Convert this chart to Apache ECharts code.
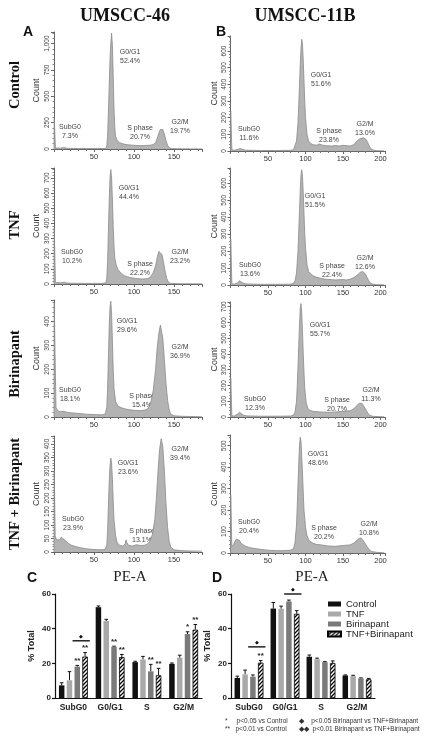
<!DOCTYPE html>
<html><head><meta charset="utf-8">
<script src="https://cdn.jsdelivr.net/npm/echarts@6/dist/echarts.min.js"></script>
<style>html,body{margin:0;padding:0;background:#fff}#c{width:434px;height:748px}</style>
</head><body><div id="c"></div>
<script>
// ---------- DATA ----------
const cellLines = ['UMSCC-46', 'UMSCC-11B'];
const treatments = ['Control', 'TNF', 'Birinapant', 'TNF + Birinapant'];
const phaseNames = ['SubG0', 'G0/G1', 'S phase', 'G2/M'];
// percentages shown on the histograms (rows: Control, TNF, Birinapant, TNF+Birinapant)
const pctA = [[7.3, 52.4, 20.7, 19.7], [10.2, 44.4, 22.2, 23.2], [18.1, 29.6, 15.4, 36.9], [23.9, 23.6, 13.1, 39.4]];
const pctB = [[11.6, 51.6, 23.8, 13.0], [13.6, 51.5, 22.4, 12.6], [12.3, 55.7, 20.7, 11.3], [20.4, 48.6, 20.2, 10.8]];

// histogram traces [PE-A, count]
const histA_control = [[0,0],[0.3,290],[1.2,290],[1.8,10],[4,5],[8,8],[10,14],[12,15],[14,8],[18,5],[30,4],[45,4],[60,4],[65,6],[66,30],[67,120],[68,350],[69,600],[70,850],[71,1000],[72,1100],[73,980],[74,700],[75,380],[76,200],[77,120],[79,80],[82,60],[86,50],[90,42],[95,38],[100,35],[105,33],[110,32],[115,34],[120,36],[124,42],[127,60],[129,100],[131,150],[133,185],[135,195],[136,185],[138,140],[140,80],[142,35],[144,12],[147,4],[155,2],[170,1],[185,1]];
const histA_tnf = [[0,0],[0.3,370],[1.2,370],[1.8,10],[4,5],[8,8],[10,12],[13,12],[16,7],[20,5],[40,4],[60,4],[65,8],[66,40],[67,150],[68,350],[69,550],[70,700],[71,755],[72,700],[73,560],[74,380],[75,250],[76,170],[78,120],[80,95],[84,70],[88,55],[92,48],[96,42],[100,38],[105,35],[110,33],[115,34],[118,38],[121,50],[124,75],[127,120],[129,175],[131,215],[133,222],[135,195],[137,140],[139,80],[141,35],[143,12],[146,4],[155,2],[185,1]];
const histA_bir = [[0,0],[0.3,480],[1,480],[1.3,270],[2,270],[2.5,40],[5,25],[8,22],[12,24],[16,20],[20,18],[30,15],[40,12],[50,10],[60,9],[64,12],[66,40],[67,120],[68,250],[69,380],[70,460],[71,485],[72,430],[73,320],[74,200],[75,120],[77,65],[80,45],[85,38],[90,33],[95,30],[100,28],[105,27],[110,27],[115,30],[118,38],[121,60],[124,110],[127,200],[129,290],[131,350],[133,385],[134,380],[136,330],[138,240],[140,140],[142,70],[144,30],[146,12],[150,5],[160,3],[185,1]];
const histA_tnfbir = [[0,0],[0.3,300],[1,300],[1.5,60],[3,45],[5,40],[7,45],[9,55],[10,62],[11,58],[13,45],[15,38],[18,32],[22,25],[27,20],[33,16],[40,12],[50,9],[60,8],[64,10],[66,25],[67,80],[68,170],[69,260],[70,320],[71,348],[72,330],[73,270],[74,190],[75,120],[77,60],[79,35],[82,25],[86,22],[89,30],[90,45],[91,35],[93,25],[98,22],[103,27],[108,24],[113,25],[117,30],[120,40],[123,65],[126,120],[128,200],[130,300],[132,380],[134,420],[135,415],[136,390],[138,300],[140,180],[142,90],[144,40],[146,18],[150,8],[160,5],[170,4],[185,3]];
const histB_control = [[0,0],[0.3,240],[1.2,240],[1.8,8],[5,4],[10,10],[13,15],[16,10],[20,5],[40,3],[60,3],[80,4],[84,8],[86,20],[88,60],[90,170],[91,280],[92,400],[93,520],[94,620],[95,670],[96,640],[97,540],[98,420],[99,300],[100,200],[102,100],[104,60],[107,45],[110,38],[115,35],[118,42],[120,45],[123,35],[128,32],[135,30],[140,33],[145,30],[150,34],[155,32],[160,30],[164,38],[168,55],[171,70],[174,75],[177,80],[179,78],[181,68],[183,50],[185,30],[187,15],[190,6],[195,2],[205,1]];
const histB_tnf = [[0,0],[0.3,270],[1.2,270],[1.8,8],[5,5],[9,12],[12,25],[14,20],[17,10],[22,6],[40,4],[60,4],[80,5],[84,10],[86,25],[88,70],[90,200],[91,320],[92,440],[93,560],[94,650],[95,680],[96,640],[97,540],[98,420],[99,300],[100,220],[102,120],[104,80],[107,65],[110,55],[115,45],[120,40],[125,35],[130,33],[140,30],[150,32],[155,30],[160,35],[165,45],[170,62],[173,75],[176,80],[178,78],[180,65],[182,45],[184,28],[186,14],[189,6],[195,2],[205,1]];
const histB_bir = [[0,0],[0.3,250],[1.2,250],[1.8,8],[5,6],[9,18],[12,30],[14,25],[17,12],[22,7],[40,5],[60,5],[80,6],[84,12],[86,30],[88,100],[89,200],[90,320],[91,460],[92,590],[93,690],[94,720],[95,660],[96,540],[97,400],[98,280],[99,180],[101,90],[103,55],[106,42],[110,36],[120,32],[130,30],[140,32],[150,36],[160,40],[165,55],[168,70],[171,85],[173,92],[175,88],[177,75],[180,50],[183,25],[186,10],[190,4],[205,1]];
const histB_tnfbir = [[0,0],[0.3,270],[1.2,270],[1.8,30],[4,40],[6,55],[8,65],[10,68],[12,58],[14,45],[17,38],[20,32],[25,26],[30,22],[40,17],[50,13],[60,11],[70,11],[80,13],[84,20],[86,50],[88,130],[89,220],[90,320],[91,420],[92,500],[93,540],[94,520],[95,450],[96,370],[97,280],[98,200],[100,120],[102,80],[105,58],[110,45],[115,40],[120,38],[130,33],[140,31],[150,35],[160,38],[165,48],[168,58],[171,67],[174,70],[176,64],[179,48],[182,30],[185,15],[188,7],[195,3],[205,1]];

// y-axis tops / tick steps for histograms (order: A ctrl, B ctrl, A tnf, B tnf, A bir, B bir, A tnf+bir, B tnf+bir)
const histYMax = [1110, 690, 765, 690, 490, 730, 430, 550];
const histYStep = [250, 100, 100, 100, 100, 100, 50, 100];
const histXMax = [185, 206];

// bar charts
const barCats = ['SubG0', 'G0/G1', 'S', 'G2/M'];
const barSeriesNames = ['Control', 'TNF', 'Birinapant', 'TNF+Birinapant'];
const meanC = pctA;
const meanD = pctB;
const errC = [[1.5, 0.7, 0.5, 0.5], [5, 1, 1.8, 1.5], [0.7, 0.3, 4, 1.3], [2.3, 1.5, 4, 3]];
const errD = [[1, 3.5, 1, 0.3], [2.5, 1.5, 0.6, 0.5], [1, 0.8, 0.3, 0.3], [1.2, 1.8, 1.2, 0.5]];
const sigC = [['', '', '', ''], ['', '', '', ''], ['**', '**', '**', '*'], ['**', '**', '**', '**']];
const sigD = [['', '', '', ''], ['', '', '', ''], ['', '', '', ''], ['**', '', '', '']];
const bracketC = [[0, 33]];
const bracketD = [[0, 29.5], [1, 60]];
const footnotes = ['*     p<0.05 vs Control', '**   p<0.01 vs Control', '\u25C6    p<0.05 Birinapant vs TNF+Birinapant', '\u25C6\u25C6  p<0.01 Birinapant vs TNF+Birinapant'];

// ---------- LAYOUT ----------
const hists = [histA_control, histB_control, histA_tnf, histB_tnf, histA_bir, histB_bir, histA_tnfbir, histB_tnfbir];
const colLeft = [54, 230.5], colWidth = [148, 154.5];
const rowTop = [[32, 36], [168, 168], [300, 302], [436, 435]];
const rowBot = [[149, 151], [284, 285], [417, 417], [552, 553]];
const annPos = [ // first-line centre of each phase label
  [[70,127],[130,52],[140,128],[180,122]],
  [[249,129],[321,75],[329,131],[365,124]],
  [[72,252],[129,188],[140,264],[180,252]],
  [[250,265],[315,196],[332,266],[365,258]],
  [[70,390],[127,321],[142,396],[180,347]],
  [[255,399],[320,325],[337,400],[371,390]],
  [[73,519],[128,463],[142,531],[180,449]],
  [[249,522],[318,454],[324,528],[369,524]]
];
const BAR_W = 5.5, BAR_STEP = 7.8;

// hatch pattern
const pc = document.createElement('canvas');
pc.width = 4; pc.height = 4;
const pctx = pc.getContext('2d');
pctx.fillStyle = '#fff'; pctx.fillRect(0, 0, 4, 4);
pctx.strokeStyle = '#000'; pctx.lineWidth = 1.3;
pctx.beginPath();
pctx.moveTo(0, 4); pctx.lineTo(4, 0);
pctx.moveTo(-1, 1); pctx.lineTo(1, -1);
pctx.moveTo(3, 5); pctx.lineTo(5, 3);
pctx.stroke();
const barColors = ['#111111', '#a9a9a9', '#7a7a7a', { image: pc, repeat: 'repeat' }];

const SANS = 'Liberation Sans, Arial, sans-serif';
const SERIF = 'Liberation Serif, Times New Roman, serif';

const grid = [], xAxis = [], yAxis = [], series = [], graphic = [];

hists.forEach((h, i) => {
  const row = Math.floor(i / 2), col = i % 2;
  grid.push({ left: colLeft[col], width: colWidth[col], top: rowTop[row][col], height: rowBot[row][col] - rowTop[row][col] });
  xAxis.push({
    type: 'value', gridIndex: i, min: 0, max: histXMax[col], interval: 50,
    axisLine: { show: true, lineStyle: { color: '#666', width: 1 } },
    axisTick: { show: true, length: 3, lineStyle: { color: '#666' } },
    minorTick: { show: true, splitNumber: 5, length: 2, lineStyle: { color: '#777' } },
    splitLine: { show: false },
    axisLabel: { fontSize: 7.5, color: '#333', fontFamily: SANS, margin: 4, showMinLabel: false, showMaxLabel: false }
  });
  yAxis.push({
    type: 'value', gridIndex: i, min: 0, max: histYMax[i], interval: histYStep[i],
    name: 'Count', nameLocation: 'middle', nameGap: col === 0 ? 13 : 11, nameRotate: 90,
    nameTextStyle: { fontSize: 9, color: '#333', fontFamily: SANS },
    axisLine: { show: true, lineStyle: { color: '#666', width: 1 } },
    axisTick: { show: true, length: 3, lineStyle: { color: '#666' } },
    minorTick: { show: true, splitNumber: 5, length: 1.5, lineStyle: { color: '#888' } },
    splitLine: { show: false },
    axisLabel: { fontSize: 6.5, color: '#444', fontFamily: SANS, rotate: 90, margin: 3, showMaxLabel: false,
      formatter: v => v.toLocaleString('en-US') }
  });
  series.push({
    type: 'line', xAxisIndex: i, yAxisIndex: i, data: h, showSymbol: false, smooth: false,
    lineStyle: { color: '#8a8a8a', width: 0.8 }, areaStyle: { color: '#b3b3b3', opacity: 1 },
    silent: true, animation: false, clip: true
  });
  const pcts = (col === 0 ? pctA : pctB)[row];
  annPos[i].forEach((p, k) => {
    graphic.push({ type: 'text', x: p[0], y: p[1] - 4, silent: true,
      style: { text: phaseNames[k] + '\n' + pcts[k].toFixed(1) + '%', fill: '#444', font: '7px ' + SANS,
        align: 'center', verticalAlign: 'top', textAlign: 'center', textVerticalAlign: 'top', lineHeight: 8.5 } });
  });
});

// bar charts
const barGridDefs = [{ left: 55, width: 147, mean: meanC, err: errC, sig: sigC, br: bracketC },
                     { left: 231, width: 144, mean: meanD, err: errD, sig: sigD, br: bracketD }];
barGridDefs.forEach((g, gi) => {
  const gIdx = 8 + gi;
  grid.push({ left: g.left, width: g.width, top: 594, height: 104 });
  xAxis.push({ type: 'category', gridIndex: gIdx, data: barCats,
    axisLine: { lineStyle: { color: '#111', width: 1.2 } },
    axisTick: { alignWithLabel: true, length: 3, lineStyle: { color: '#111', width: 1.2 } },
    axisLabel: { fontSize: 8.5, fontWeight: 'bold', color: '#222', fontFamily: SANS, margin: 5 } });
  yAxis.push({ type: 'value', gridIndex: gIdx, min: 0, max: 60, interval: 20,
    name: '% Total', nameLocation: 'middle', nameGap: 19, nameRotate: 90,
    nameTextStyle: { fontSize: 9, fontWeight: 'bold', color: '#222', fontFamily: SANS },
    axisLine: { show: true, lineStyle: { color: '#111', width: 1.2 } },
    axisTick: { show: true, length: 3, lineStyle: { color: '#111', width: 1.2 } },
    splitLine: { show: false },
    axisLabel: { fontSize: 8, fontWeight: 'bold', color: '#222', fontFamily: SANS, margin: 4 } });
  barSeriesNames.forEach((nm, s) => {
    series.push({ type: 'bar', name: nm, xAxisIndex: gIdx, yAxisIndex: gIdx, data: g.mean[s],
      barWidth: BAR_W, barGap: ((BAR_STEP - BAR_W) / BAR_W * 100) + '%',
      itemStyle: { color: barColors[s], borderColor: s === 3 ? '#000' : 'transparent', borderWidth: s === 3 ? 0.8 : 0 },
      animation: false, silent: true });
  });
  barSeriesNames.forEach((nm, s) => {
    series.push({ type: 'custom', xAxisIndex: gIdx, yAxisIndex: gIdx, animation: false, silent: true, clip: false,
      data: g.mean[s].map((v, c) => [c, v, g.err[s][c]]),
      renderItem: (params, api) => {
        const c = api.value(0), v = api.value(1), e = api.value(2);
        const b = api.coord([c, v]), t = api.coord([c, v + e]);
        const x = b[0] + (s - 1.5) * BAR_STEP;
        const ch = [
          { type: 'line', shape: { x1: x, y1: b[1], x2: x, y2: t[1] }, style: { stroke: '#111', lineWidth: 1 } },
          { type: 'line', shape: { x1: x - 1.8, y1: t[1], x2: x + 1.8, y2: t[1] }, style: { stroke: '#111', lineWidth: 1 } }
        ];
        const sg = g.sig[s][params.dataIndex];
        if (sg) ch.push({ type: 'text', x: x, y: t[1] - 0.5, style: { text: sg, fill: '#222', font: 'bold 8px ' + SANS, align: 'center', verticalAlign: 'bottom' } });
        return { type: 'group', children: ch };
      } });
  });
  series.push({ type: 'custom', xAxisIndex: gIdx, yAxisIndex: gIdx, animation: false, silent: true, clip: false,
    data: g.br,
    renderItem: (params, api) => {
      const p = api.coord([api.value(0), api.value(1)]);
      const x1 = p[0] + 0.5 * BAR_STEP - BAR_W / 2 - 2, x2 = p[0] + 1.5 * BAR_STEP + BAR_W / 2 + 2;
      return { type: 'group', children: [
        { type: 'line', shape: { x1: x1, y1: p[1], x2: x2, y2: p[1] }, style: { stroke: '#111', lineWidth: 1.4 } },
        { type: 'text', x: (x1 + x2) / 2, y: p[1] - 1.5, style: { text: '\u25C6', fill: '#111', font: '5px ' + SANS, align: 'center', verticalAlign: 'bottom' } }
      ] };
    } });
});

// titles and labels
graphic.push({ type: 'text', x: 125, y: 16, style: { text: cellLines[0], font: 'bold 18px ' + SERIF, fill: '#111', align: 'center', verticalAlign: 'middle' } });
graphic.push({ type: 'text', x: 305, y: 16, style: { text: cellLines[1], font: 'bold 18px ' + SERIF, fill: '#111', align: 'center', verticalAlign: 'middle' } });
[['A', 28, 32], ['B', 221, 32], ['C', 32, 578], ['D', 217, 578]].forEach(a => {
  graphic.push({ type: 'text', x: a[1], y: a[2], style: { text: a[0], font: 'bold 14px ' + SANS, fill: '#111', align: 'center', verticalAlign: 'middle' } });
});
const rowLabelY = [85, 225, 364, 494];
treatments.forEach((t, r) => {
  graphic.push({ type: 'text', x: 15, y: rowLabelY[r], rotation: Math.PI / 2,
    style: { text: t, font: 'bold 14.5px ' + SERIF, fill: '#111', align: 'center', verticalAlign: 'middle' } });
});
[[130, 577], [312, 577]].forEach(p => {
  graphic.push({ type: 'text', x: p[0], y: p[1], style: { text: 'PE-A', font: '15px ' + SERIF, fill: '#222', align: 'center', verticalAlign: 'middle' } });
});
[[225, 721], [225, 729], [299, 721], [299, 729]].forEach((p, k) => {
  graphic.push({ type: 'text', x: p[0], y: p[1], style: { text: footnotes[k], font: '6.5px ' + SANS, fill: '#333', align: 'left', verticalAlign: 'middle' } });
});

const chart = echarts.init(document.getElementById('c'), null, { renderer: 'canvas', width: 434, height: 748 });
chart.setOption({
  animation: false,
  backgroundColor: '#fff',
  grid, xAxis, yAxis, series, graphic,
  legend: { data: barSeriesNames, orient: 'vertical', left: 322, top: 594, itemWidth: 13, itemHeight: 5, itemGap: 0,
    icon: 'rect', textStyle: { fontSize: 9.5, color: '#222', fontFamily: SANS, lineHeight: 10 }, selectedMode: false }
});
</script></body></html>
